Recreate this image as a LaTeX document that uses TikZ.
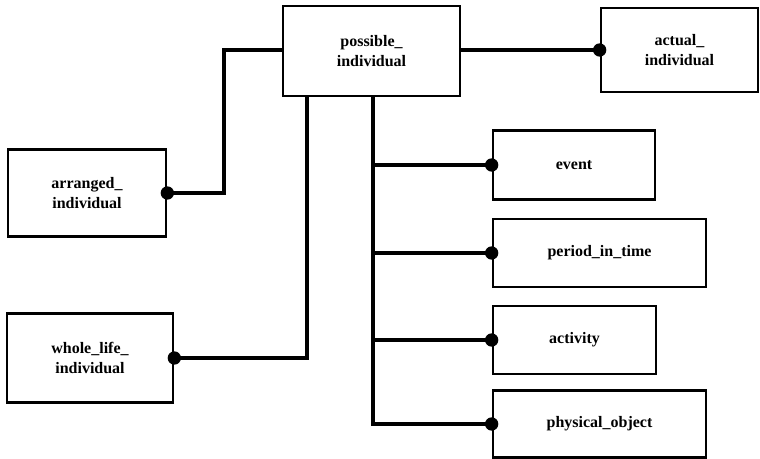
\documentclass[tikz,border=0pt]{standalone}
\usepackage{fontspec}
\setmainfont{Liberation Serif}
\begin{document}
\begin{tikzpicture}[x=0.75pt,y=-0.75pt,
  entity/.style={draw, line width=2pt, rectangle, inner sep=0pt, align=center,
    font=\fontsize{12}{14.5}\selectfont\bfseries},
  link/.style={line width=2.4pt},
  joint/.style={radius=5pt}]
\useasboundingbox (0,0) rectangle (760,459);

% entity boxes
\node[entity, minimum width=177*0.75pt, minimum height=90*0.75pt] (poss) at (371.5,51) {possible\_\\individual};
\node[entity, minimum width=157*0.75pt, minimum height=84*0.75pt] (actual) at (679.5,50) {actual\_\\individual};
\node[entity, minimum width=158*0.75pt, minimum height=87*0.75pt] (arranged) at (87,193) {arranged\_\\individual};
\node[entity, minimum width=166*0.75pt, minimum height=89*0.75pt] (whole) at (90,358) {whole\_life\_\\individual};
\node[entity, minimum width=162*0.75pt, minimum height=69*0.75pt] (event) at (574,165) {event};
\node[entity, minimum width=213*0.75pt, minimum height=68*0.75pt] (period) at (599.5,253) {period\_in\_time};
\node[entity, minimum width=163*0.75pt, minimum height=68*0.75pt] (activity) at (574.5,340) {activity};
\node[entity, minimum width=213*0.75pt, minimum height=67*0.75pt] (phys) at (599.5,424) {physical\_object};

% connectors
\draw[link] (poss.east |- actual.west) -- (actual.west);
\draw[link] (arranged.east) -| (224,50) -- (poss.west |- 224,50);
\draw[link] (whole.east) -| (poss.south -| 307,0);
\draw[link] (poss.south -| 373,0) |- (phys.west);
\draw[link] (event.west -| 373,0) -- (event.west);
\draw[link] (period.west -| 373,0) -- (period.west);
\draw[link] (activity.west -| 373,0) -- (activity.west);

% joint dots
\foreach \p in {actual.west, arranged.east, whole.east, event.west, period.west, activity.west, phys.west}
  \fill (\p) circle[joint];
\end{tikzpicture}
\end{document}
